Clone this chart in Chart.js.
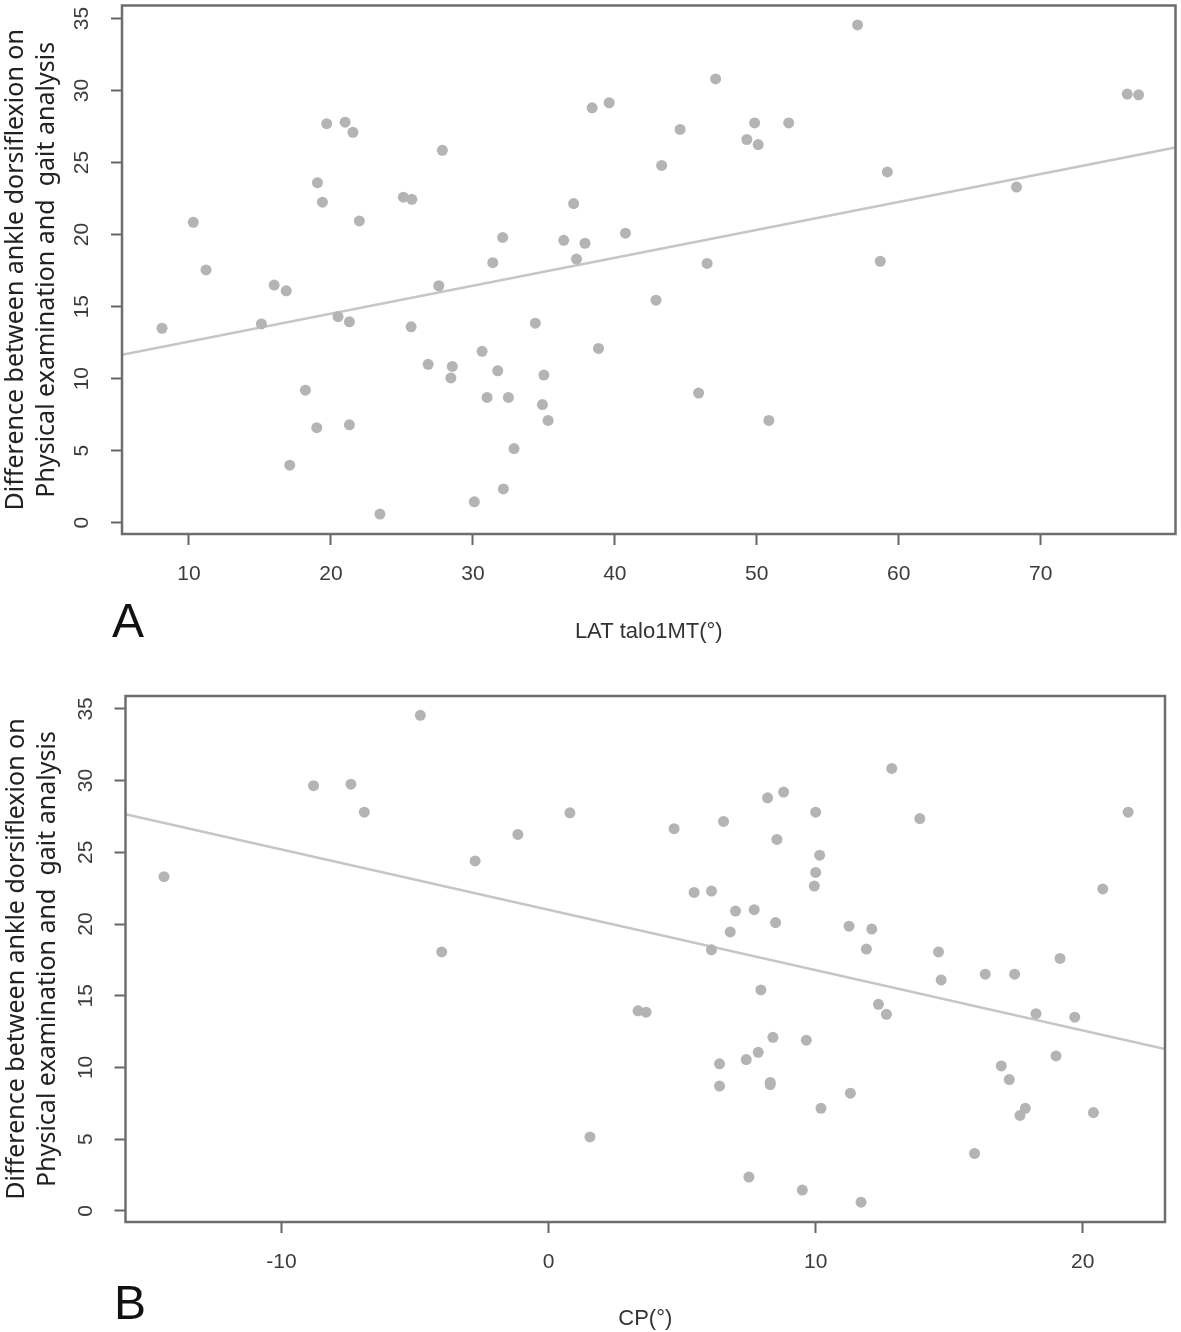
<!DOCTYPE html>
<html>
<head>
<meta charset="utf-8">
<script src="https://cdn.jsdelivr.net/npm/chart.js@4.4.1/dist/chart.umd.min.js"></script>
<style>
  body { margin:0; background:#fff; width:1181px; height:1332px; position:relative; overflow:hidden; }
  canvas { position:absolute; left:0; }
  #chartA { top:0; }
  #chartB { top:665px; }
  .tag { position:absolute; font-family:"Liberation Sans", Arial, sans-serif; font-size:48px; line-height:1; color:#111; }
</style>
</head>
<body>
<canvas id="chartA" width="1181" height="660"></canvas>
<canvas id="chartB" width="1181" height="667"></canvas>
<div class="tag" style="left:112px;top:597px;">A</div>
<div class="tag" style="left:114px;top:1279px;">B</div>

<script>
// ---- data ----
// panel A: LAT talo-1st MT angle vs. dorsiflexion difference
const latX = [8.1,10.3,11.2,15.1,16.0,16.85,17.1,18.2,19.0,19.05,19.4,19.7,20.5,21.0,21.3,21.3,21.55,22.0,23.45,25.1,
  25.7,25.65,26.85,27.6,27.85,28.45,28.55,30.1,30.65,31.0,31.4,31.75,32.1,32.15,32.5,32.9,34.4,34.9,35.0,35.3,
  36.4,37.1,37.3,37.9,38.4,38.85,39.6,40.75,42.9,43.3,44.6,45.9,46.5,47.1,49.3,49.85,50.1,50.85,52.25,57.1,
  58.7,59.2,68.3,76.1,76.9];
const latY = [13.5,20.85,17.55,13.8,16.5,16.1,4.0,9.2,6.6,23.6,22.25,27.7,14.3,27.8,13.95,6.8,27.1,20.95,0.6,22.6,
  22.45,13.6,11.0,16.45,25.85,10.05,10.85,1.45,11.9,8.7,18.05,10.55,19.8,2.35,8.7,5.15,13.85,8.2,10.25,7.1,
  19.6,22.15,18.3,19.4,28.8,12.1,29.15,20.1,15.45,24.8,27.3,9.0,18.0,30.8,26.6,27.75,26.25,7.1,27.75,34.55,
  18.15,24.35,23.3,29.75,29.7];
// panel B: CP angle vs. dorsiflexion difference
const cpX = [-14.4,-8.8,-7.4,-6.9,-4.8,-4.0,-2.75,-1.15,0.8,1.55,3.35,3.65,4.7,5.45,6.1,6.1,6.4,6.4,6.55,6.8,
  7.0,7.4,7.5,7.7,7.85,7.95,8.2,8.3,8.3,8.4,8.5,8.55,8.8,9.5,9.65,9.95,10.0,10.0,10.15,10.2,
  11.25,11.3,11.7,11.9,12.1,12.35,12.65,12.85,13.9,14.6,14.7,15.95,16.35,16.95,17.25,17.45,17.65,17.85,18.25,19.0,
  19.15,19.7,20.4,20.75,21.7];
const cpY = [23.3,29.65,29.75,27.8,34.55,18.05,24.4,26.25,27.75,5.15,13.95,13.85,26.65,22.2,22.3,18.2,10.25,8.7,27.15,19.45,
  20.9,10.55,2.35,21.0,11.05,15.4,28.8,8.8,8.95,12.1,20.1,25.9,29.2,1.45,11.9,22.65,23.6,27.8,24.8,7.15,
  19.85,8.2,0.6,18.25,19.65,14.4,13.7,30.85,27.35,18.05,16.1,4.0,16.5,10.1,9.15,16.5,6.65,7.15,13.75,10.8,
  17.6,13.5,6.85,22.45,27.8];

// fitted lines: y at the left and right edge of each plot
const latFit = [11.66, 26.05];
const cpFit  = [27.66, 11.28];

// axis ranges and ticks
const latRange = [5.28, 79.5];
const cpRange  = [-15.84, 23.08];
const diffRange = [-0.78, 35.9];
const latTicks = [10,20,30,40,50,60,70];
const cpTicks  = [-10,0,10,20];
const diffTicks = [0,5,10,15,20,25,30,35];

const yTitle = ["Difference between ankle dorsiflexion on", "Physical examination and  gait analysis"];

// box around the plot region, like R's box()
const framePlugin = {
  id:"frame",
  afterDatasetsDraw(chart) {
    const {ctx, chartArea:a} = chart;
    ctx.save();
    ctx.strokeStyle = "#6e6e6e"; ctx.lineWidth = 2.5;
    ctx.strokeRect(a.left, a.top, a.right-a.left, a.bottom-a.top);
    ctx.restore();
  }
};

function makePanel(id, o) {
  const pts = o.xs.map((x,i)=>({x, y:o.ys[i]}));
  const line = [{x:o.xRange[0], y:o.fit[0]}, {x:o.xRange[1], y:o.fit[1]}];
  const tickGrid = {drawOnChartArea:false, drawTicks:true, tickLength:11, tickWidth:2, tickColor:"#666"};
  new Chart(document.getElementById(id), {
    type:"scatter",
    data:{datasets:[
      {data:pts, pointRadius:5.5, pointHoverRadius:5.5, backgroundColor:"#b4b4b4", borderWidth:0},
      {type:"line", data:line, borderColor:"#c6c6c6", borderWidth:2.5, pointRadius:0, fill:false},
    ]},
    options:{
      responsive:false, animation:false,
      layout:{padding:{top:o.padTop, right:o.padRight, left:0, bottom:0}},
      plugins:{legend:{display:false}, tooltip:{enabled:false}},
      scales:{
        x:{type:"linear", position:"bottom", min:o.xRange[0], max:o.xRange[1],
          afterBuildTicks:s=>{ s.ticks = o.xTicks.map(v=>({value:v})); },
          afterFit:s=>{ s.height = o.xAxisH; s.paddingLeft = 0; s.paddingRight = 0; },
          grid:tickGrid, border:{display:false},
          ticks:{maxRotation:0, padding:17, color:"#3c3c3c", font:{family:"Liberation Sans", size:21}},
          title:{display:true, text:o.xTitle, color:"#333", font:{family:"Liberation Sans", size:22},
                 padding:{top:0, bottom:o.xTitlePad}}},
        y:{type:"linear", min:diffRange[0], max:diffRange[1],
          afterBuildTicks:s=>{ s.ticks = diffTicks.map(v=>({value:v})); },
          afterFit:s=>{ s.width = o.yAxisW; s.paddingTop = 0; s.paddingBottom = 0; },
          grid:tickGrid, border:{display:false},
          ticks:{minRotation:90, maxRotation:90, crossAlign:"center", padding:17, color:"#3c3c3c",
                 font:{family:"Liberation Sans", size:21}},
          title:{display:true, text:yTitle, color:"#222", font:{family:"Noto Sans", size:25, lineHeight:1.25},
                 padding:{top:o.yTitlePad, bottom:0}}}
      }
    },
    plugins:[framePlugin]
  });
}

makePanel("chartA", {xs:latX, ys:latY, fit:latFit, xRange:latRange, xTicks:latTicks, xTitle:"LAT talo1MT(°)",
  padTop:3, padRight:5, yAxisW:122, xAxisH:126, xTitlePad:15, yTitlePad:0});
makePanel("chartB", {xs:cpX, ys:cpY, fit:cpFit, xRange:cpRange, xTicks:cpTicks, xTitle:"CP(°)",
  padTop:31, padRight:16, yAxisW:125.5, xAxisH:110, xTitlePad:0, yTitlePad:1});
</script>
</body>
</html>
